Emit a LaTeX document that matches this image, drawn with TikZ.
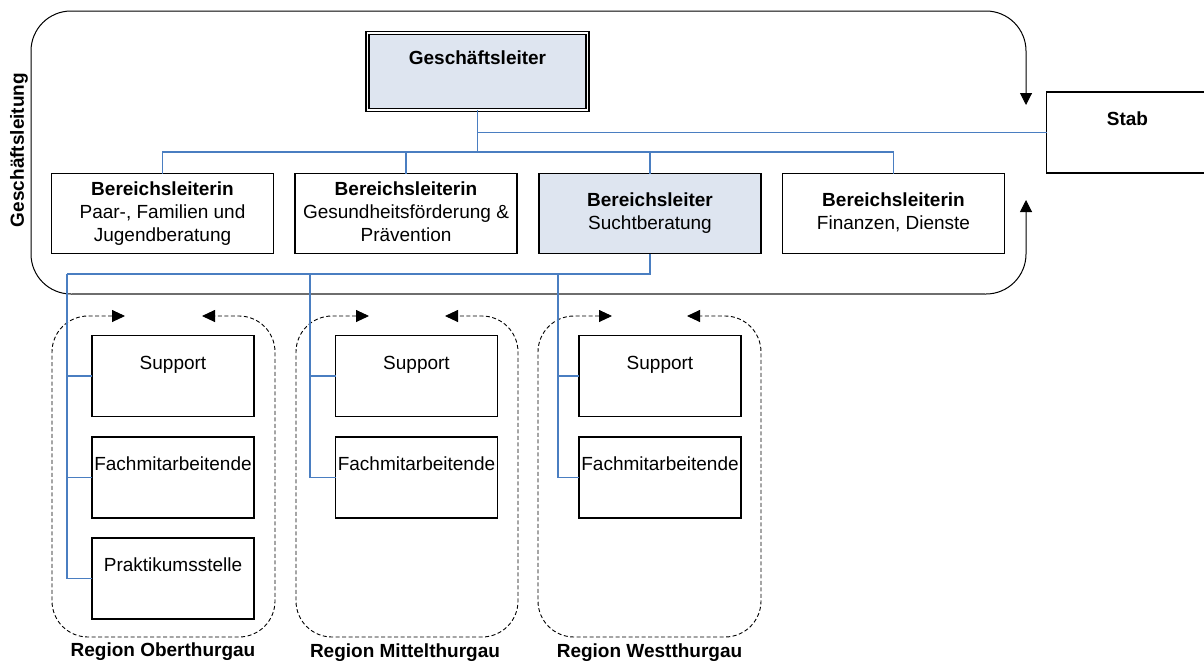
\documentclass[tikz,border=0pt]{standalone}
\usepackage{fontspec}
\setmainfont{Liberation Sans}
\usetikzlibrary{arrows.meta}
\definecolor{orgblue}{RGB}{74,126,193}
\definecolor{headfill}{RGB}{222,229,240}
\definecolor{rimgrey}{RGB}{110,110,110}

\begin{document}
\begin{tikzpicture}[x=1pt,y=-1pt,
  every node/.style={font=\fontsize{19}{23}\selectfont, inner sep=0pt, outer sep=0pt},
  box/.style={draw=black, line width=1.2pt, fill=white, align=center},
  areabox/.style={box, minimum width=222pt, minimum height=80pt},
  unitbox/.style={box, minimum width=162pt, minimum height=81pt},
  headbox/.style={box, fill=headfill, double, double distance=1.8pt, line width=1.2pt,
                  minimum width=220pt, minimum height=77pt},
  link/.style={orgblue, line width=1.6pt},
  bigtips/.style={{Triangle[length=12pt,width=12pt]}-{Triangle[length=12pt,width=12pt]}},
  smalltips/.style={{Triangle[length=13pt,width=12pt]}-{Triangle[length=13pt,width=12pt]}},
  region/.style={dashed, dash pattern=on 4pt off 2.5pt, line width=0.9pt, rounded corners=36pt, smalltips},
  caption/.style={font=\fontsize{19}{23}\selectfont\bfseries}
]
\useasboundingbox (0,0) rectangle (1204,662);

% management frame with the two arrows towards the staff unit
\draw[line width=1pt, rounded corners=40pt, bigtips]
  (1026,105) -- (1026,11) -- (31,11) -- (31,294) -- (1026,294) -- (1026,200);
\draw[rimgrey, line width=1.6pt] (72,294) -- (985,294);
\node[caption, rotate=90] (frame) at (19,150) {Geschäftsleitung};

% regional groups
\draw[region] (125,316) -- (52,316) -- (52,637) -- (275,637) -- (275,316) -- (202,316);
\draw[region] (369,316) -- (296,316) -- (296,637) -- (518,637) -- (518,316) -- (445,316);
\draw[region] (612,316) -- (538,316) -- (538,637) -- (761,637) -- (761,316) -- (687,316);
\node[caption] (reg1) at (163,652) {Region Oberthurgau};
\node[caption] (reg2) at (405,653) {Region Mittelthurgau};
\node[caption] (reg3) at (649.5,653) {Region Westthurgau};

% connector junctions
\coordinate (glbus) at (477.5,152);
\coordinate (t1) at (67,274);
\coordinate (t2) at (310,274);
\coordinate (t3) at (558,274);

% boxes
\node[headbox] (gl) at (477.5,71.5) {\strut\textbf{Geschäftsleiter}\\\strut};
\node[unitbox] (stab) at (1127.5,132.5) {\strut\textbf{Stab}\\\strut};

\node[areabox] (b1) at (162.5,213.5) {\strut\textbf{Bereichsleiterin}\\\strut Paar-, Familien und\\\strut Jugendberatung};
\node[areabox] (b2) at (406,213.5) {\strut\textbf{Bereichsleiterin}\\\strut Gesundheitsförderung \&\\\strut Prävention};
\node[areabox, fill=headfill] (b3) at (650,213.5) {\strut\textbf{Bereichsleiter}\\\strut Suchtberatung};
\node[areabox] (b4) at (893.5,213.5) {\strut\textbf{Bereichsleiterin}\\\strut Finanzen, Dienste};

\node[unitbox] (r1a) at (173,376) {\strut Support\\\strut};
\node[unitbox] (r1b) at (173,477.5) {\strut Fachmitarbeitende\\\strut};
\node[unitbox] (r1c) at (173,578.5) {\strut Praktikumsstelle\\\strut};
\node[unitbox] (r2a) at (416.5,376) {\strut Support\\\strut};
\node[unitbox] (r2b) at (416.5,477.5) {\strut Fachmitarbeitende\\\strut};
\node[unitbox] (r3a) at (660,376) {\strut Support\\\strut};
\node[unitbox] (r3b) at (660,477.5) {\strut Fachmitarbeitende\\\strut};

% reporting lines
\draw[link] (gl.south) -- (glbus);
\foreach \b in {b1,b2,b3,b4} \draw[link] (\b.north) |- (glbus);
\draw[link] (stab.west) -- (stab.west -| gl.south);
\draw[link] (b3.south) |- (t1);
\foreach \u in {r1a,r1b,r1c} \draw[link] (\u.west) -| (t1);
\foreach \u in {r2a,r2b} \draw[link] (\u.west) -| (t2);
\foreach \u in {r3a,r3b} \draw[link] (\u.west) -| (t3);
\end{tikzpicture}
\end{document}
